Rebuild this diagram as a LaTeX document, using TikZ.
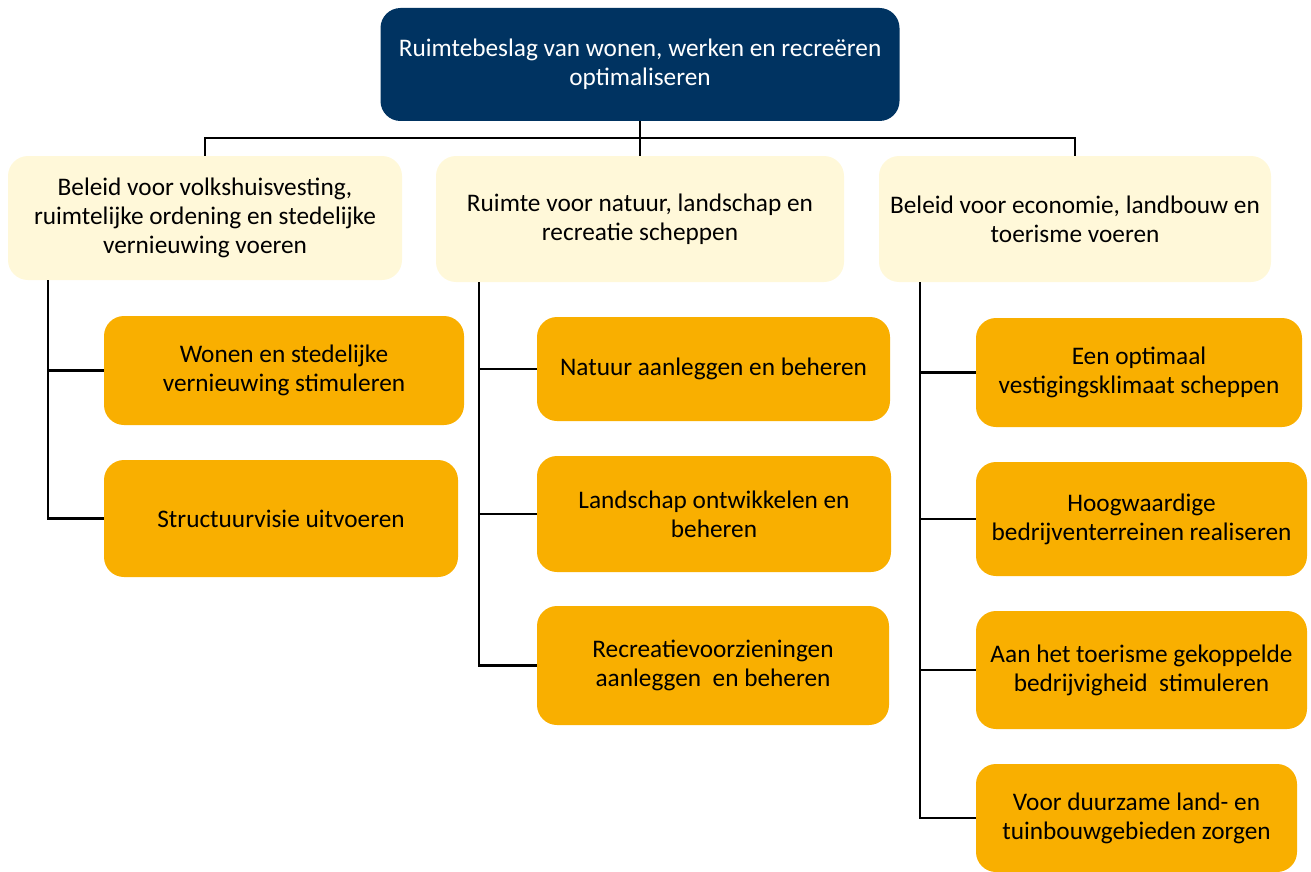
\documentclass[tikz,border=0pt]{standalone}
\usepackage{fontspec}
\setmainfont{Carlito}
\usepackage{tikz}
\usetikzlibrary{positioning}
\definecolor{navy}{HTML}{003361}
\definecolor{cream}{HTML}{FFF8D9}
\definecolor{amber}{HTML}{F9AF00}

\begin{document}
\begin{tikzpicture} [
	x=1pt,y=-1pt,
	font=\fontsize{25.3}{29}\selectfont,
	goal/.style={
		rectangle,draw=none,fill=navy,text=white,
		rounded corners=20pt,align=center},
	aim/.style={
		rectangle,draw=none,fill=cream,
		rounded corners=20pt,align=center},
	task/.style={
		rectangle,draw=none,fill=amber,
		rounded corners=20pt,align=center},
	link/.style={
		draw=black,line width=2.2pt}]
\useasboundingbox (0,0) rectangle (1311,872);
\node [goal,minimum width=519,minimum height=113]	(top) at (640,64.5)	{Ruimtebeslag van wonen, werken en recreëren\\optimaliseren};
\node [aim,minimum width=394,minimum height=124]	(housing) at (205,218)	{Beleid voor volkshuisvesting,\\ruimtelijke ordening en stedelijke\\vernieuwing voeren};
\node [aim,minimum width=408,minimum height=126]	(nature) at (640,219)	{Ruimte voor natuur, landschap en\\recreatie scheppen};
\node [aim,minimum width=392,minimum height=126]	(economy) at (1075,219)	{Beleid voor economie, landbouw en\\toerisme voeren};
\node [task,minimum width=360,minimum height=109]	(living) at (284,370.5)	{Wonen en stedelijke\\vernieuwing stimuleren};
\node [task,minimum width=354,minimum height=117]	(vision) at (281,518.5)	{Structuurvisie uitvoeren};
\node [task,minimum width=353,minimum height=104]	(natpark) at (713.5,369)	{Natuur aanleggen en beheren};
\node [task,minimum width=354,minimum height=116]	(landscape) at (714,514)	{Landschap ontwikkelen en\\beheren};
\node [task,minimum width=352,minimum height=119]	(leisure) at (713,665.5)	{Recreatievoorzieningen\\aanleggen~ en beheren};
\node [task,minimum width=326,minimum height=109]	(climate) at (1139,372.5)	{Een optimaal\\vestigingsklimaat scheppen};
\node [task,minimum width=331,minimum height=114]	(estates) at (1141.5,519)	{Hoogwaardige\\bedrijventerreinen realiseren};
\node [task,minimum width=331,minimum height=118]	(tourism) at (1141.5,670)	{Aan het toerisme gekoppelde\\bedrijvigheid~ stimuleren};
\node [task,minimum width=321,minimum height=108]	(farming) at (1136.5,818)	{Voor duurzame land- en\\tuinbouwgebieden zorgen};
\draw[link] (top.south) -- ++(0,17) coordinate (bus);
\draw[link] (housing.north) |- (bus) -| (economy.north);
\draw[link] (bus) -- (nature.north);
\draw[link] ([xshift=-157]housing.south) |- (living.west);
\draw[link] ([xshift=-157]housing.south) |- (vision.west);
\draw[link] ([xshift=-161]nature.south) |- (natpark.west);
\draw[link] ([xshift=-161]nature.south) |- (landscape.west);
\draw[link] ([xshift=-161]nature.south) |- (leisure.west);
\draw[link] ([xshift=-155]economy.south) |- (climate.west);
\draw[link] ([xshift=-155]economy.south) |- (estates.west);
\draw[link] ([xshift=-155]economy.south) |- (tourism.west);
\draw[link] ([xshift=-155]economy.south) |- (farming.west);
\end{tikzpicture}
\end{document}
